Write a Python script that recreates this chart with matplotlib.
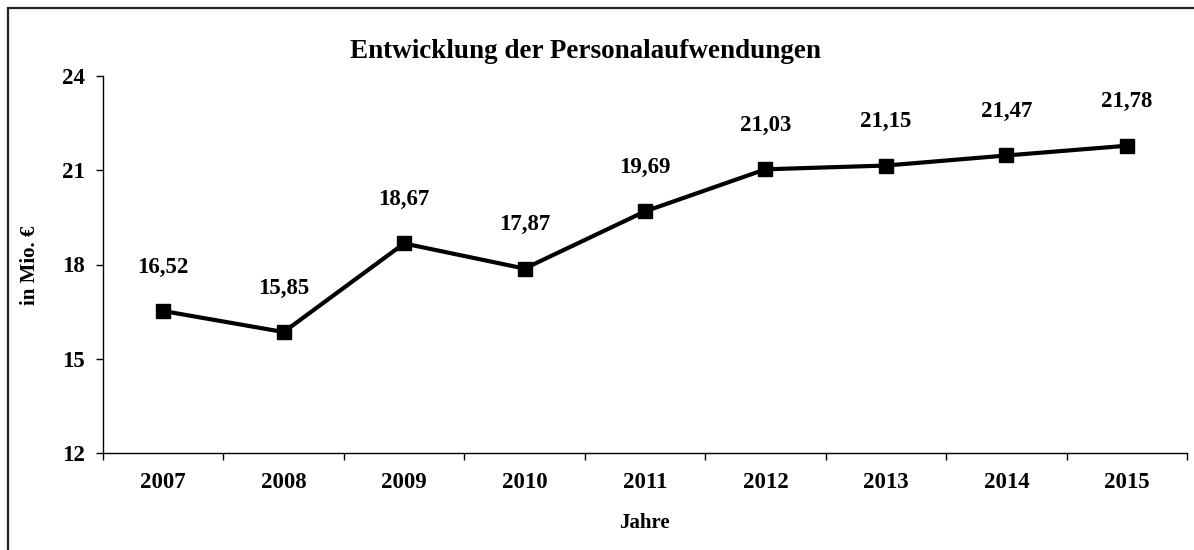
import numpy as np
import matplotlib
matplotlib.use("Agg")
import matplotlib.pyplot as plt
from matplotlib.patches import Rectangle

plt.rcParams['font.family'] = ['Liberation Serif', 'DejaVu Serif']
plt.rcParams['font.weight'] = 'bold'

# Daten
jahre = ['2007', '2008', '2009', '2010', '2011', '2012', '2013', '2014', '2015']
werte = [16.52, 15.85, 18.67, 17.87, 19.69, 21.03, 21.15, 21.47, 21.78]
y_ticks = [12, 15, 18, 21, 24]

fig = plt.figure(figsize=(11.94, 5.5), dpi=100)
ax = fig.add_axes([103/1194, 1-453/550, (1187-103)/1194, (453-76)/550])

# Rahmen um die Grafik
fig.patches.append(Rectangle((8/1194, -0.1), 1.2, 1-8/550+0.1, transform=fig.transFigure,
                             fill=False, edgecolor='#222222', linewidth=1.6))

x = np.arange(len(jahre))
ax.plot(x, werte, color='black', linewidth=3, marker='s', markersize=10.5,
        markerfacecolor='black', markeredgecolor='black', clip_on=False)

for xi, v in zip(x, werte):
    ax.annotate(('%.2f' % v).replace('.', ','), (xi, v), xytext=(0, 24),
                textcoords='offset points', ha='center', va='bottom',
                fontsize=16.5, fontweight='bold')

ax.set_xlim(-0.5, len(jahre) - 0.5)
ax.set_ylim(12, 24)
ax.set_yticks(y_ticks)
ax.set_yticklabels([str(t) for t in y_ticks], fontsize=16.5, fontweight='bold')

ax.set_xticks(np.arange(-0.5, len(jahre)), minor=False)
ax.set_xticklabels([])
ax.set_xticks(x, minor=True)
ax.set_xticklabels(jahre, minor=True, fontsize=16.5, fontweight='bold')
ax.tick_params(axis='x', which='major', direction='out', length=5, width=1)
ax.tick_params(axis='x', which='minor', length=0, pad=14)
ax.tick_params(axis='y', direction='out', length=5, width=1, pad=8)

for s in ['top', 'right']:
    ax.spines[s].set_visible(False)
for s in ['left', 'bottom']:
    ax.spines[s].set_linewidth(1)

fig.text(585/1194, 1-51/550, 'Entwicklung der Personalaufwendungen', ha='center', va='center',
         fontsize=19.5, fontweight='bold')
fig.text(644/1194, 1-523/550, 'Jahre', ha='center', va='center', fontsize=15, fontweight='bold')
fig.text(30/1194, 1-265/550, 'in Mio. €', ha='center', va='center', rotation=90,
         fontsize=15, fontweight='bold')

fig.savefig('out.png', dpi=100)
